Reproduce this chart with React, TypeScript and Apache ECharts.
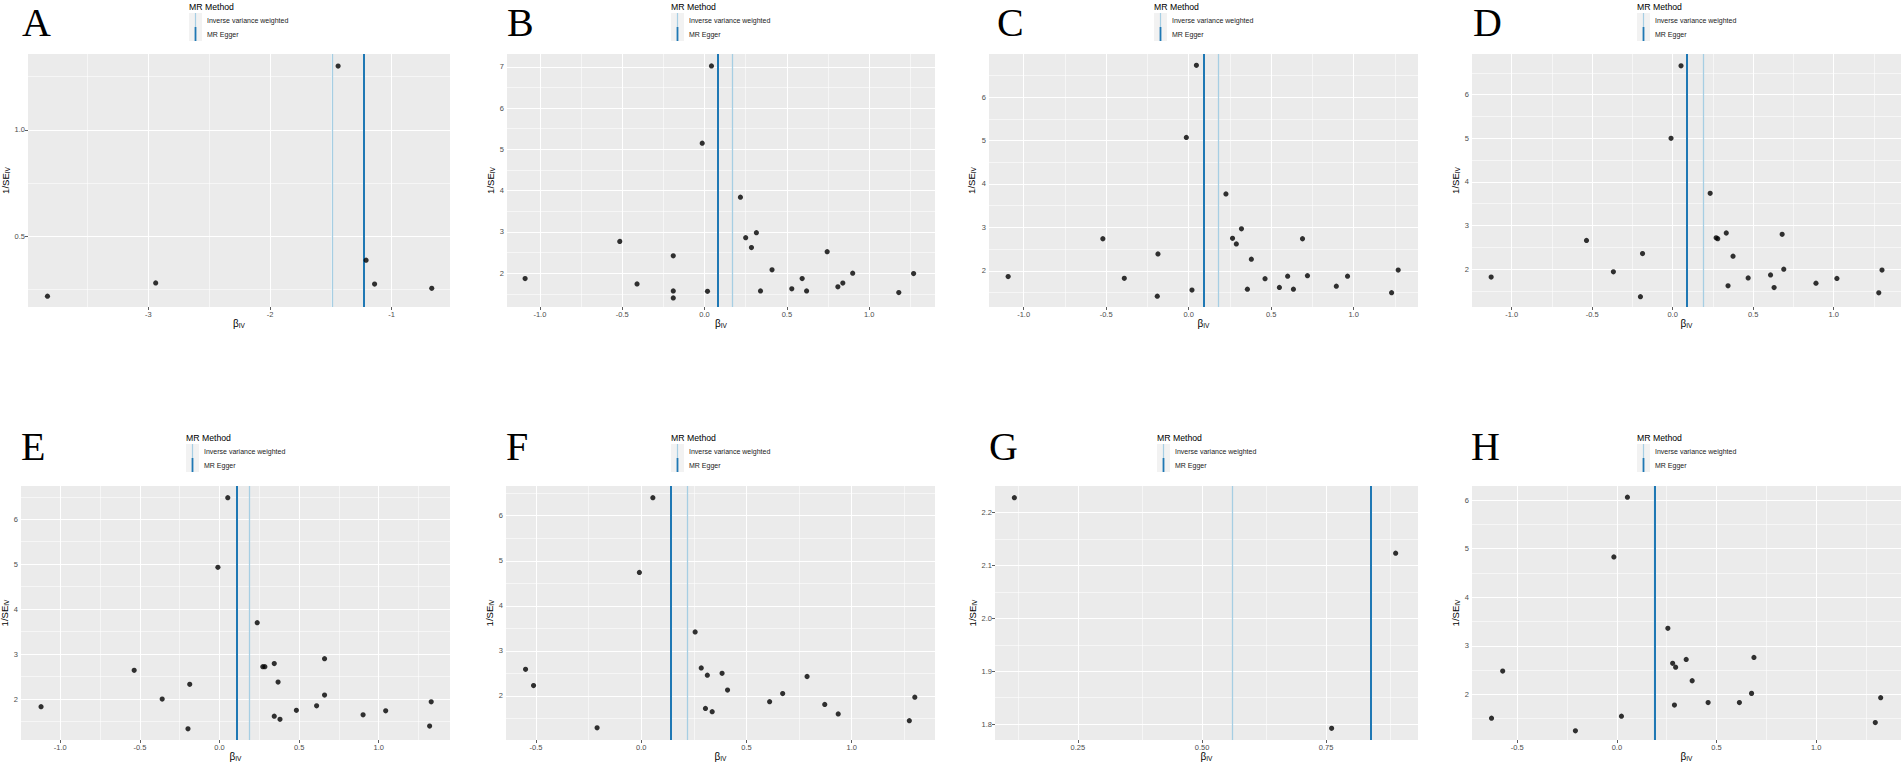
import React, { useEffect, useRef } from "react";
import * as echarts from "echarts";

// ---------- data ----------
const panelLetters = ["A", "B", "C", "D", "E", "F", "G", "H"];

const betaA = [-3.83, -2.94, -1.44, -1.21, -1.14, -0.67];
const invSeA = [0.218, 0.28, 1.3, 0.387, 0.275, 0.255];

const betaB = [-1.09, -0.515, -0.41, -0.19, -0.19, -0.19, -0.014, 0.042, 0.018, 0.218, 0.25, 0.285, 0.315, 0.34, 0.41, 0.53, 0.593, 0.62, 0.745, 0.81, 0.84, 0.9, 1.18, 1.27];
const invSeB = [1.87, 2.77, 1.74, 2.42, 1.57, 1.4, 5.15, 7.02, 1.56, 3.84, 2.86, 2.62, 2.98, 1.57, 2.08, 1.62, 1.87, 1.57, 2.52, 1.67, 1.76, 2.0, 1.53, 1.99];

const betaC = [-1.094, -0.52, -0.39, -0.186, -0.19, -0.014, 0.047, 0.02, 0.226, 0.266, 0.289, 0.32, 0.38, 0.356, 0.463, 0.55, 0.6, 0.635, 0.69, 0.72, 0.895, 0.963, 1.23, 1.27];
const invSeC = [1.87, 2.74, 1.83, 2.39, 1.42, 5.07, 6.73, 1.56, 3.77, 2.75, 2.62, 2.97, 2.27, 1.58, 1.82, 1.62, 1.88, 1.58, 2.74, 1.89, 1.65, 1.88, 1.5, 2.02];

const betaD = [-1.127, -0.535, -0.368, -0.187, -0.2, -0.01, 0.052, 0.233, 0.27, 0.28, 0.333, 0.375, 0.344, 0.469, 0.608, 0.63, 0.68, 0.69, 0.89, 1.02, 1.28, 1.3];
const invSeD = [1.82, 2.66, 1.94, 2.36, 1.37, 5.0, 6.66, 3.74, 2.72, 2.7, 2.83, 2.3, 1.62, 1.8, 1.87, 1.58, 2.8, 2.0, 1.68, 1.79, 1.46, 1.98];

const betaE = [-1.121, -0.536, -0.36, -0.187, -0.198, -0.01, 0.052, 0.237, 0.272, 0.285, 0.344, 0.368, 0.344, 0.38, 0.483, 0.61, 0.66, 0.66, 0.902, 1.044, 1.33, 1.32];
const invSeE = [1.83, 2.64, 2.0, 2.33, 1.34, 4.93, 6.48, 3.7, 2.72, 2.72, 2.79, 2.38, 1.62, 1.55, 1.75, 1.85, 2.9, 2.09, 1.65, 1.74, 1.94, 1.4];

const betaF = [-0.55, -0.512, -0.21, -0.009, 0.055, 0.256, 0.285, 0.314, 0.384, 0.41, 0.305, 0.337, 0.61, 0.672, 0.788, 0.872, 0.936, 1.3, 1.274];
const invSeF = [2.59, 2.23, 1.29, 4.74, 6.4, 3.42, 2.62, 2.46, 2.5, 2.13, 1.72, 1.65, 1.87, 2.05, 2.43, 1.81, 1.6, 1.97, 1.45];

const betaG = [0.122, 0.89, 0.761];
const invSeG = [2.228, 2.123, 1.792];

const betaH = [-0.629, -0.573, -0.208, -0.015, 0.053, 0.023, 0.256, 0.28, 0.295, 0.348, 0.378, 0.289, 0.458, 0.615, 0.676, 0.688, 1.324, 1.297];
const invSeH = [1.51, 2.48, 1.25, 4.83, 6.06, 1.55, 3.36, 2.64, 2.56, 2.72, 2.28, 1.78, 1.83, 1.83, 2.02, 2.76, 1.93, 1.42];

const panelBetas = [betaA, betaB, betaC, betaD, betaE, betaF, betaG, betaH];
const panelInvSe = [invSeA, invSeB, invSeC, invSeD, invSeE, invSeF, invSeG, invSeH];

const ivwEstimates = [-1.49, 0.165, 0.182, 0.187, 0.19, 0.218, 0.557, 0.188];
const eggerEstimates = [-1.23, 0.077, 0.087, 0.092, 0.106, 0.142, 0.842, 0.188];

const legendTitle = "MR Method";
const methodNames = ["Inverse variance weighted", "MR Egger"];

const xRanges = [
  [-3.99, -0.52], [-1.2, 1.4], [-1.21, 1.39], [-1.246, 1.418],
  [-1.247, 1.448], [-0.643, 1.396], [0.083, 0.935], [-0.727, 1.426],
];
const yRanges = [
  [0.167, 1.357], [1.18, 7.31], [1.17, 6.99], [1.135, 6.93],
  [1.09, 6.74], [1.02, 6.66], [1.77, 2.25], [1.06, 6.29],
];

const xTicksWide = [-1, -0.5, 0, 0.5, 1];
const xLabelsWide = ["-1.0", "-0.5", "0.0", "0.5", "1.0"];
const xTicksNarrow = [-0.5, 0, 0.5, 1];
const xLabelsNarrow = ["-0.5", "0.0", "0.5", "1.0"];
const xTickValues = [[-3, -2, -1], xTicksWide, xTicksWide, xTicksWide, xTicksWide, xTicksNarrow, [0.25, 0.5, 0.75], xTicksNarrow];
const xTickLabels = [["-3", "-2", "-1"], xLabelsWide, xLabelsWide, xLabelsWide, xLabelsWide, xLabelsNarrow, ["0.25", "0.50", "0.75"], xLabelsNarrow];
const xMinorWide = [-0.75, -0.25, 0.25, 0.75, 1.25];
const xMinorNarrow = [-0.25, 0.25, 0.75, 1.25];
const xMinorValues = [[-3.5, -2.5, -1.5], xMinorWide, xMinorWide, xMinorWide, xMinorWide, xMinorNarrow, [0.125, 0.375, 0.625, 0.875], xMinorNarrow];

const yTicks2to6 = [2, 3, 4, 5, 6];
const yLabels2to6 = ["2", "3", "4", "5", "6"];
const yTickValues = [[0.5, 1.0], [2, 3, 4, 5, 6, 7], yTicks2to6, yTicks2to6, yTicks2to6, yTicks2to6, [1.8, 1.9, 2.0, 2.1, 2.2], yTicks2to6];
const yTickLabels = [["0.5", "1.0"], ["2", "3", "4", "5", "6", "7"], yLabels2to6, yLabels2to6, yLabels2to6, yLabels2to6, ["1.8", "1.9", "2.0", "2.1", "2.2"], yLabels2to6];
const yMinorHalf = [1.5, 2.5, 3.5, 4.5, 5.5, 6.5];
const yMinorValues = [[0.25, 0.75, 1.25], yMinorHalf, yMinorHalf, yMinorHalf, yMinorHalf, yMinorHalf, [1.85, 1.95, 2.05, 2.15], [1.5, 2.5, 3.5, 4.5, 5.5]];

// ---------- layout ----------
const panelBoxes = [
  { left: 28, top: 54, width: 422, height: 253 },
  { left: 507, top: 54, width: 428, height: 253 },
  { left: 989, top: 54, width: 429, height: 253 },
  { left: 1472, top: 54, width: 429, height: 253 },
  { left: 21, top: 486, width: 429, height: 254 },
  { left: 506, top: 486, width: 429, height: 254 },
  { left: 995, top: 486, width: 423, height: 254 },
  { left: 1472, top: 486, width: 429, height: 254 },
];
const letterX = [22, 507, 997, 1473, 21, 506, 989, 1471];
const letterY = [0, 0, 0, 0, 424, 424, 424, 424];
const yNameGaps = [16.5, 11.5, 12.5, 11.5, 9.5, 11.5, 15.5, 10];

const IVW_COLOR = "#a6cee3";
const EGGER_COLOR = "#1f78b4";
const SANS = "Liberation Sans, Arial, sans-serif";

function labelFormatter(ticks: number[], labels: string[]) {
  return (v: number) => {
    const i = ticks.findIndex((t) => Math.abs(t - v) < 1e-9);
    return i >= 0 ? labels[i] : "";
  };
}

function buildOption() {
  const grids: any[] = [];
  const xAxes: any[] = [];
  const yAxes: any[] = [];
  const series: any[] = [];
  const graphics: any[] = [];

  panelBoxes.forEach((b, i) => {
    const rowTop = i < 4 ? 0 : 431;
    grids.push({
      left: b.left, top: b.top, width: b.width, height: b.height,
      show: true, backgroundColor: "#ebebeb", borderWidth: 0,
      containLabel: false, outerBoundsMode: "none",
    });
    const nameRich = { s: { fontSize: 6.5, verticalAlign: "bottom", color: "#000", fontFamily: SANS } };
    xAxes.push({
      type: "value", gridIndex: i, min: xRanges[i][0], max: xRanges[i][1],
      axisLine: { show: false }, splitLine: { show: false }, minorSplitLine: { show: false },
      axisTick: { show: true, length: 3, lineStyle: { color: "#333", width: 0.8 }, customValues: xTickValues[i] },
      axisLabel: {
        customValues: xTickValues[i], formatter: labelFormatter(xTickValues[i], xTickLabels[i]),
        fontSize: 7.5, color: "#4d4d4d", margin: 3, fontFamily: SANS,
      },
      name: "β{s|IV}", nameLocation: "middle", nameGap: 11,
      nameTextStyle: { fontSize: 10, color: "#000", fontFamily: SANS, rich: nameRich },
    });
    yAxes.push({
      type: "value", gridIndex: i, min: yRanges[i][0], max: yRanges[i][1],
      axisLine: { show: false }, splitLine: { show: false }, minorSplitLine: { show: false },
      axisTick: { show: true, length: 3, lineStyle: { color: "#333", width: 0.8 }, customValues: yTickValues[i] },
      axisLabel: {
        customValues: yTickValues[i], formatter: labelFormatter(yTickValues[i], yTickLabels[i]),
        fontSize: 7.5, color: "#4d4d4d", margin: 3, fontFamily: SANS,
      },
      name: "1/SE{s|IV}", nameLocation: "middle", nameGap: yNameGaps[i],
      nameTextStyle: { fontSize: 9.5, color: "#000", fontFamily: SANS, rich: nameRich },
    });

    const gridLineData: any[] = [];
    xTickValues[i].forEach((v) => gridLineData.push({ xAxis: v, lineStyle: { width: 1.1 } }));
    xMinorValues[i].forEach((v) => gridLineData.push({ xAxis: v, lineStyle: { width: 0.55 } }));
    yTickValues[i].forEach((v) => gridLineData.push({ yAxis: v, lineStyle: { width: 1.1 } }));
    yMinorValues[i].forEach((v) => gridLineData.push({ yAxis: v, lineStyle: { width: 0.55 } }));

    series.push({
      type: "line", xAxisIndex: i, yAxisIndex: i, data: [], silent: true, z: 1,
      markLine: {
        silent: true, z: 1, symbol: ["none", "none"], label: { show: false },
        emphasis: { disabled: true }, animation: false,
        lineStyle: { type: "solid", color: "#ffffff" },
        data: gridLineData,
      },
    });
    series.push({
      type: "line", xAxisIndex: i, yAxisIndex: i, data: [], silent: true, z: 2,
      markLine: {
        silent: true, z: 2, symbol: ["none", "none"], label: { show: false },
        emphasis: { disabled: true }, animation: false,
        lineStyle: { type: "solid" },
        data: [
          { xAxis: ivwEstimates[i], lineStyle: { color: IVW_COLOR, width: 1.3, type: "solid" } },
          { xAxis: eggerEstimates[i], lineStyle: { color: EGGER_COLOR, width: 2, type: "solid" } },
        ],
      },
    });
    series.push({
      type: "scatter", xAxisIndex: i, yAxisIndex: i, z: 3,
      symbol: "circle", symbolSize: 5.2,
      itemStyle: { color: "#000" },
      data: panelBetas[i].map((bv, j) => [bv, panelInvSe[i][j]]),
    });

    // panel letter
    graphics.push({
      type: "text", x: letterX[i], y: letterY[i],
      style: {
        text: panelLetters[i], fontSize: 40, lineHeight: 45,
        fontFamily: "Liberation Serif, Times New Roman, serif", fill: "#000",
        align: "left", verticalAlign: "top",
      },
    });
    // legend
    const L = Math.round(b.left + b.width / 2 - 50);
    graphics.push({
      type: "text", x: L, y: rowTop + 6.5,
      style: { text: legendTitle, fontSize: 8.7, fontFamily: SANS, fill: "#000", align: "left", verticalAlign: "middle" },
    });
    [IVW_COLOR, EGGER_COLOR].forEach((c, k) => {
      const ky = rowTop + 13 + k * 14;
      graphics.push({ type: "rect", shape: { x: L, y: ky, width: 13, height: 14 }, style: { fill: "#f2f2f2" } });
      graphics.push({ type: "line", shape: { x1: L + 6.5, y1: ky, x2: L + 6.5, y2: ky + 14 }, style: { stroke: c, lineWidth: k === 0 ? 1.2 : 1.8 } });
      graphics.push({
        type: "text", x: L + 18, y: ky + 7.5,
        style: { text: methodNames[k], fontSize: 7, fontFamily: SANS, fill: "#1a1a1a", align: "left", verticalAlign: "middle" },
      });
    });
  });

  return {
    animation: false,
    backgroundColor: "#ffffff",
    grid: grids,
    xAxis: xAxes,
    yAxis: yAxes,
    series,
    graphic: { elements: graphics },
  };
}

export default function App() {
  const ref = useRef<HTMLDivElement>(null);
  useEffect(() => {
    if (!ref.current) return;
    const chart = echarts.init(ref.current, null, { renderer: "svg" });
    chart.setOption(buildOption() as any);
    return () => chart.dispose();
  }, []);
  return (
    <div
      ref={ref}
      style={{ position: "absolute", left: 0, top: 0, width: 1901, height: 763, background: "#fff" }}
    />
  );
}
